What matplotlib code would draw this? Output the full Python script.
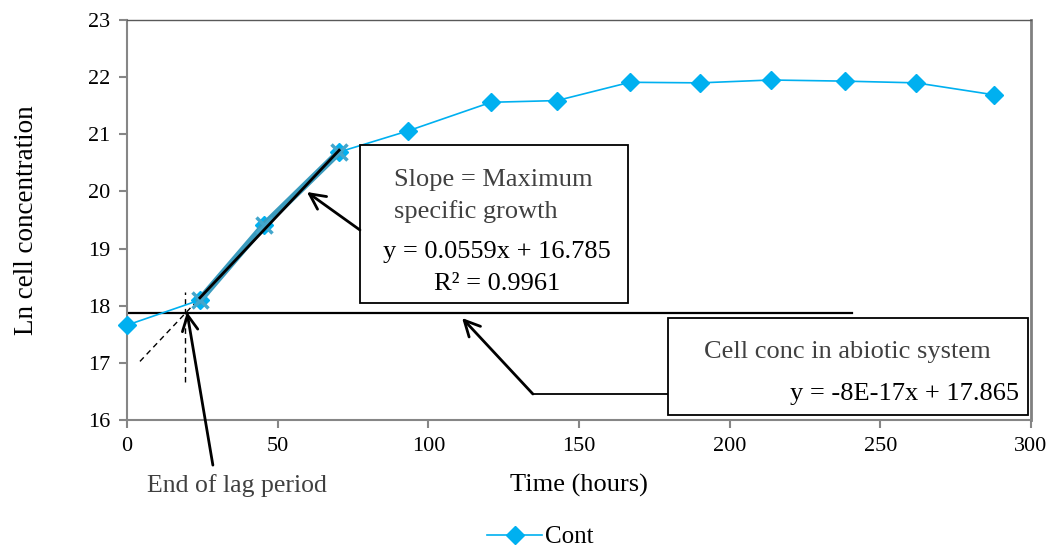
import matplotlib
matplotlib.use("Agg")
import matplotlib.pyplot as plt
from matplotlib.patches import Rectangle
from matplotlib.lines import Line2D
import numpy as np

# ---- data ----
time_h = [0, 24.2, 45.5, 70.4, 93.3, 120.8, 142.7, 166.9, 190.2, 213.7, 238.3, 261.9, 287.8]
ln_conc = [17.66, 18.10, 19.41, 20.69, 21.06, 21.56, 21.59, 21.91, 21.90, 21.95, 21.93, 21.90, 21.69]
exp_idx = [1, 2, 3]            # exponential-phase points
slope = 0.0559
intercept = 16.785
abiotic_level = 17.865
abiotic_end = 240.6
series_label = "Cont"
eq_growth = ["y = 0.0559x + 16.785", "R² = 0.9961"]
eq_abiotic = "y = -8E-17x + 17.865"
x_ticks = [0, 50, 100, 150, 200, 250, 300]
y_ticks = [16, 17, 18, 19, 20, 21, 22, 23]

plt.rcParams['font.family'] = ['Liberation Serif', 'DejaVu Serif']

W, H = 1051, 547
fig = plt.figure(figsize=(W / 100, H / 100), dpi=100)
ax = fig.add_axes([127 / W, 1 - 420 / H, (1031 - 127) / W, 400 / H])

cyan = '#00B0F0'
teal = '#3A9BBE'
gray_txt = '#404040'

ax.plot(time_h, ln_conc, color=cyan, lw=1.2, marker='D', ms=9.5, mec=cyan, mfc=cyan,
        zorder=3, clip_on=False)

ex_t = [time_h[i] for i in exp_idx]
ex_y = [ln_conc[i] for i in exp_idx]
ax.plot(ex_t, ex_y, color=teal, lw=5, marker='x', ms=12, mew=2.5, mec='#43A6CC', zorder=4)

# trendline
tt = np.array([ex_t[0], ex_t[-1]])
ax.plot(tt, slope * tt + intercept, color='black', lw=2, zorder=5)

# abiotic line
ax.plot([0, abiotic_end], [abiotic_level, abiotic_level], color='black', lw=1.6, zorder=2)

# lag extrapolation
lag_t = (abiotic_level - intercept) / slope
te = np.array([4.3, ex_t[0]])
ax.plot(te, slope * te + intercept, color='black', lw=1, ls=(0, (4, 3)), zorder=2)
ax.plot([lag_t, lag_t], [16.665, 18.24], color='black', lw=1, ls=(0, (4, 3)), zorder=2)

ax.set_xlim(0, 300)
ax.set_ylim(16, 23)
ax.set_xticks(x_ticks)
ax.set_yticks(y_ticks)
ax.tick_params(axis='both', labelsize=16, color='#868686', width=1.5, length=6, direction='out', pad=6)
for s in ['left', 'bottom']:
    ax.spines[s].set_color('#868686')
    ax.spines[s].set_linewidth(1.5)
ax.spines['top'].set_color('#595959')
ax.spines['top'].set_linewidth(1.0)
ax.spines['right'].set_color('#808080')
ax.spines['right'].set_linewidth(2.0)

ax.set_xlabel('Time (hours)', fontsize=19, labelpad=13)
ax.set_ylabel('Ln cell concentration', fontsize=19.5, labelpad=35)

# boxes
ax.add_patch(Rectangle((0.2577, 0.2925), 0.2965, 0.395, transform=ax.transAxes,
                       fill=True, fc='white', ec='black', lw=1.3, zorder=6, clip_on=False))
ax.add_patch(Rectangle((0.5985, 0.0125), 0.3982, 0.2425, transform=ax.transAxes,
                       fill=True, fc='white', ec='black', lw=1.3, zorder=6, clip_on=False))

ax.text(0.2955, 0.60, 'Slope = Maximum', transform=ax.transAxes, fontsize=19, color=gray_txt,
        ha='left', va='center', zorder=7)
ax.text(0.2955, 0.52, 'specific growth', transform=ax.transAxes, fontsize=19, color=gray_txt,
        ha='left', va='center', zorder=7)
ax.text(0.409, 0.42, eq_growth[0], transform=ax.transAxes, fontsize=19, color='black',
        ha='center', va='center', zorder=7)
ax.text(0.409, 0.34, eq_growth[1], transform=ax.transAxes, fontsize=19, color='black',
        ha='center', va='center', zorder=7)

ax.text(0.797, 0.17, 'Cell conc in abiotic system', transform=ax.transAxes, fontsize=19,
        color=gray_txt, ha='center', va='center', zorder=7)
ax.text(0.987, 0.065, eq_abiotic, transform=ax.transAxes, fontsize=19,
        color='black', ha='right', va='center', zorder=7)

# arrows
aprops = dict(arrowstyle='->', mutation_scale=28, lw=2, color='black', shrinkA=0, shrinkB=0)
ax.annotate('', xy=(59.7, 19.99), xytext=(77.3, 19.325), arrowprops=aprops, zorder=8)
ax.plot([134.7, 179.5], [16.455, 16.455], color='black', lw=1.3, zorder=5)
ax.annotate('', xy=(111.2, 17.785), xytext=(134.7, 16.455), arrowprops=aprops, zorder=8)
ax.annotate('', xy=(19.9, 17.89), xytext=(28.5, 15.21), arrowprops=aprops,
            annotation_clip=False, zorder=8)

fig.text(237 / W, 1 - 486 / H, 'End of lag period', fontsize=18.5, color=gray_txt,
         ha='center', va='center')

handle = Line2D([], [], color=cyan, lw=1.2, marker='D', ms=9.5, mec=cyan, mfc=cyan)
fig.legend([handle], [series_label], loc='center', bbox_to_anchor=(540 / W, 1 - 537 / H),
           frameon=False, fontsize=18, handlelength=2.2, handletextpad=0.1)

fig.savefig('out.png', dpi=100)
